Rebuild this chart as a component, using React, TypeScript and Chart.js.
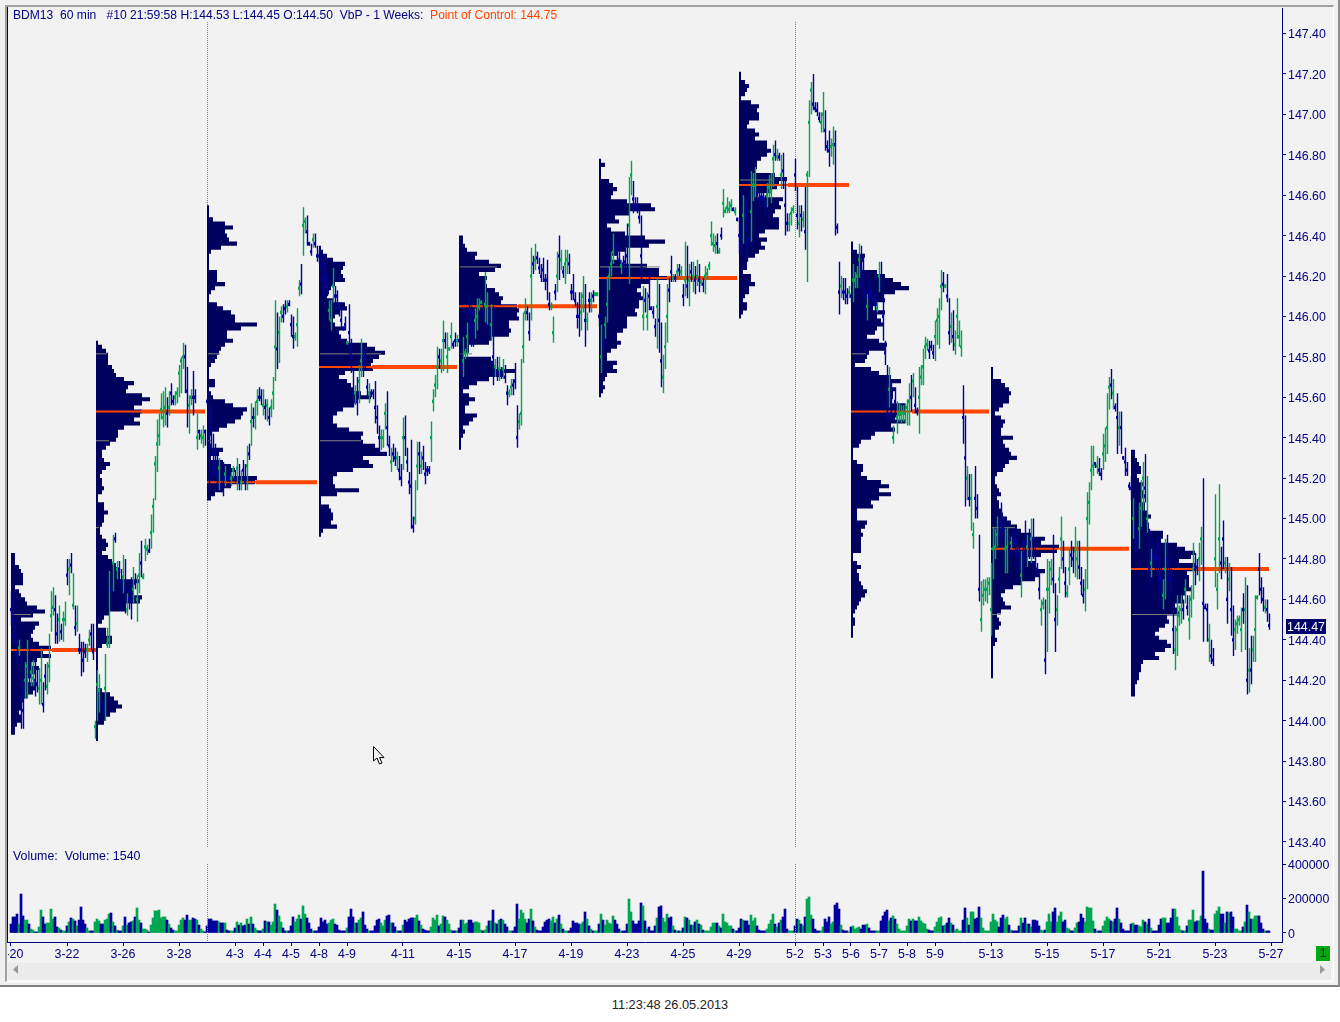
import { useEffect, useRef } from 'react';
import Chart from 'chart.js/auto';

// bar prices are stored as cents above this level
const PRICE_BASE = 143;

const priceTicks = [143.4, 143.6, 143.8, 144, 144.2, 144.4, 144.6, 144.8, 145, 145.2, 145.4, 145.6, 145.8, 146, 146.2, 146.4, 146.6, 146.8, 147, 147.2, 147.4];
const volumeTicks = [0, 200000, 400000];
const dateTickIndex = [0, 28, 56, 84, 112, 126, 140, 154, 168, 196, 224, 252, 280, 308, 336, 364, 392, 406, 420, 434, 448, 462, 490, 518, 546, 574, 602, 630];
const dateTickLabel = ['3-20', '3-22', '3-26', '3-28', '4-3', '4-4', '4-5', '4-8', '4-9', '4-11', '4-15', '4-17', '4-19', '4-23', '4-25', '4-29', '5-2', '5-3', '5-6', '5-7', '5-8', '5-9', '5-13', '5-15', '5-17', '5-21', '5-23', '5-27'];
const sessionBreaks = [98.25, 392.25];

const barHigh = [
  164,163,148,140,140,132,122,129,140,137, 129,130,129,125,126,136,119,128,129,143,
  164,166,162,153,157,148,154,159,180,180, 183,173,157,157,143,139,139,138,138,145,
  148,148,100,125,123,112,110,133,146,174, 171,192,193,179,179,175,182,180,163,168,
  171,176,173,172,183,189,173,190,187,190, 202,210,231,249,252,262,263,265,260,263,
  267,261,263,265,276,280,287,286,275,261, 264,273,264,252,244,244,246,244,259,256,
  256,242,237,231,230,218,228,226,224,223, 223,226,224,230,227,224,229,227,236,237,
  257,255,258,264,265,264,264,259,259,255, 259,270,308,302,300,305,306,308,308,308,
  301,300,292,304,318,326,354,349,350,337, 336,341,341,335,333,330,330,330,321,308,
  308,324,315,313,307,303,295,300,288,306, 289,274,266,270,276,289,286,285,269,267,
  264,264,268,256,246,244,244,257,263,241, 235,237,235,233,231,227,250,251,235,223,
  239,201,219,238,238,233,236,228,226,226, 248,264,271,285,284,284,298,292,292,284,
  297,288,292,291,289,284,290,284,297,312, 305,303,304,309,309,308,309,322,312,305,
  306,305,279,280,280,275,279,276,266,264, 269,269,277,256,252,279,302,309,305,302,
  334,330,336,332,329,326,329,321,328,312, 307,300,316,332,340,333,325,333,333,331,
  316,321,312,307,312,312,320,316,302,312, 312,313,312,312,302,296,290,300,320,325,
  332,341,338,336,332,328,330,334,346,369, 377,367,359,359,354,350,315,314,312,323,
  305,305,299,319,316,297,281,297,316,319, 330,321,321,326,326,325,316,337,335,326,
  327,327,325,328,326,318,319,325,324,327, 347,341,340,341,334,344,363,354,359,357,
  358,354,354,349,349,345,360,358,359,340, 372,371,374,362,363,361,361,360,366,370,
  371,385,387,383,381,380,381,368,351,351, 354,355,378,364,355,355,352,364,372,407,
  416,420,406,406,401,401,411,402,387,392, 388,394,392,346,327,320,319,319,314,315,
  312,326,322,325,336,335,331,314,311,319, 316,312,311,307,327,327,312,288,276,275,
  268,246,265,258,257,256,256,257,259,267, 271,272,265,255,275,276,284,290,289,288,
  288,286,298,304,309,323,322,316,321,309, 302,303,293,309,298,293,266,251,226,222,
  222,198,226,212,192,169,170,170,171,171, 178,196,195,201,200,208,201,195,196,191,
  191,194,195,190,186,184,190,199,192,195, 200,200,185,178,173,160,161,160,180,179,
  180,192,168,162,176,201,189,176,167,185, 189,186,196,189,189,176,170,175,213,218,
  236,236,228,231,230,225,242,245,262,270, 274,269,257,262,253,253,231,235,228,218,
  221,210,208,196,208,219,228,232,221,195, 185,188,185,190,188,176,170,190,192,181,
  175,160,147,162,157,162,160,170,162,162, 167,188,183,180,188,196,220,158,158,148,
  140,136,212,173,217,186,199,181,181,178, 176,157,150,152,152,156,163,171,167,136,
  142,142,162,162,183,171,166,160,160,153,
];

const barLow = [
  147,138,138,128,132,96,96,111,111,117, 117,117,112,114,108,108,104,115,113,119,
  144,152,138,138,139,140,139,147,167,162, 173,155,142,144,133,122,124,131,129,137,
  135,130,91,100,104,106,103,100,136,136, 163,164,188,170,173,165,163,153,152,155,
  150,158,165,149,163,171,170,179,182,183, 185,193,209,223,236,249,245,246,245,251,
  256,256,256,257,260,262,274,262,245,242, 256,251,257,234,239,237,235,236,256,213,
  234,221,220,214,214,213,211,216,218,218, 216,220,218,214,214,214,219,214,214,229,
  236,245,244,251,258,256,251,249,248,246, 250,254,268,274,277,297,297,301,302,305,
  290,284,288,285,310,311,330,341,335,335, 330,334,334,327,326,318,310,312,310,298,
  293,307,303,306,300,294,293,293,286,281, 272,255,256,251,257,270,270,274,260,257,
  260,259,247,242,232,234,235,244,236,231, 223,228,226,224,219,216,224,231,223,212,
  195,193,197,214,222,222,224,217,221,222, 228,253,260,264,274,272,273,284,272,283,
  284,284,285,285,287,264,270,279,280,293, 285,285,289,293,303,306,298,297,296,290,
  288,266,270,268,268,269,269,267,256,260, 261,261,264,235,244,246,277,298,298,288,
  298,321,323,326,321,317,317,313,308,303, 303,287,308,312,318,323,319,316,321,321,
  308,308,305,294,290,293,302,285,293,302, 302,307,310,310,295,272,282,289,297,313,
  320,326,330,328,325,321,321,321,321,316, 360,351,352,351,346,318,293,302,293,303,
  303,299,290,284,282,265,262,274,287,307, 317,317,317,318,320,319,305,310,309,305,
  317,312,311,315,312,315,312,311,318,323, 335,332,331,331,331,338,349,351,351,351,
  352,352,350,347,331,331,336,342,327,337, 337,357,359,359,354,356,357,351,354,359,
  356,364,377,377,377,363,363,340,342,342, 345,351,362,343,339,342,344,333,317,369,
  400,402,401,399,396,391,391,382,381,374, 379,375,340,341,301,309,308,306,306,309,
  307,307,314,314,319,314,309,309,298,304, 309,306,302,302,312,314,288,276,248,255,
  248,237,250,242,248,247,248,247,246,246, 253,260,252,251,242,266,266,279,283,279,
  283,279,278,286,284,303,312,314,307,286, 287,283,281,289,285,280,237,206,209,206,
  194,185,200,200,159,144,157,159,158,162, 142,170,180,186,186,188,190,173,173,181,
  185,185,181,180,172,161,173,180,176,180, 178,180,172,172,160,147,155,123,134,153,
  167,163,134,147,163,175,173,161,161,167, 176,173,171,170,170,162,158,154,165,197,
  214,221,225,222,221,219,224,228,232,254, 259,254,253,232,236,232,229,221,221,214,
  209,190,183,183,185,196,204,208,193,166, 171,177,174,172,157,162,155,160,171,160,
  164,133,125,132,147,148,150,158,152,140, 151,160,167,172,169,177,139,155,139,129,
  128,127,166,155,173,170,175,173,148,164, 142,132,135,143,147,134,148,135,113,114,
  118,129,129,160,162,158,154,153,149,145,
];

const barClose = [
  155,150,142,133,136,110,105,120,127,122, 124,121,120,118,116,120,108,122,117,127,
  152,156,155,143,150,144,150,150,172,175, 177,157,146,148,135,135,130,134,135,140,
  143,134,97,118,115,108,106,116,138,140, 165,178,190,175,175,169,171,165,155,160,
  160,165,168,160,172,178,171,186,185,184, 193,206,227,237,241,254,250,255,252,255,
  262,258,260,262,272,278,280,280,263,256, 260,260,260,240,243,241,240,243,258,235,
  245,232,228,222,225,216,220,222,220,220, 220,224,220,225,218,218,224,218,226,232,
  248,250,250,258,260,260,256,255,256,250, 255,262,285,284,292,302,300,304,305,306,
  296,290,290,296,314,316,345,347,342,336, 332,338,336,330,330,325,318,320,315,303,
  298,315,310,310,304,298,294,296,287,292, 280,262,262,258,268,278,278,280,265,262,
  262,262,255,250,240,240,240,252,245,236, 228,232,230,230,224,220,240,240,228,218,
  216,196,200,226,232,226,230,222,224,224, 240,258,266,275,280,278,288,288,280,284,
  290,286,288,288,288,275,278,282,290,302, 295,292,298,300,305,307,302,306,305,296,
  296,280,275,272,274,272,274,270,262,262, 265,266,268,240,248,252,285,302,302,292,
  320,326,328,329,324,320,323,318,318,306, 305,292,312,320,330,328,322,326,328,326,
  312,312,308,300,300,302,310,298,298,308, 308,310,311,311,300,280,286,296,306,320,
  326,332,335,332,328,325,326,327,330,345, 370,358,355,354,349,330,300,308,300,310,
  304,302,295,305,298,278,270,285,300,313, 322,319,319,322,323,322,310,318,315,318,
  322,320,318,320,318,317,316,320,321,325, 340,336,335,336,332,340,356,352,354,353,
  355,353,352,348,340,336,350,350,335,338, 352,365,365,361,358,359,359,355,360,364,
  362,378,380,379,379,370,372,355,346,346, 351,353,370,350,346,350,348,342,370,396,
  412,405,403,402,398,396,400,392,384,382, 384,385,385,344,312,315,312,312,310,312,
  310,318,318,320,328,325,316,312,305,310, 312,309,306,304,320,320,300,282,252,264,
  252,240,258,250,252,252,252,252,255,258, 260,268,256,253,260,270,275,285,286,283,
  285,282,290,298,300,315,316,315,310,292, 295,290,286,300,290,285,250,230,220,210,
  210,192,210,205,165,150,162,165,165,168, 155,185,186,192,192,198,195,185,186,185,
  188,190,188,184,178,172,182,188,186,186, 190,190,178,175,165,155,158,130,165,165,
  175,170,150,155,170,190,180,168,163,175, 182,180,184,180,176,168,162,165,200,208,
  224,226,227,226,224,222,232,236,245,265, 266,262,255,250,245,245,230,228,224,216,
  215,200,195,190,195,205,220,215,200,175, 178,182,180,180,170,170,162,175,180,170,
  170,145,135,145,152,155,155,165,156,150, 160,175,175,176,180,190,158,156,155,140,
  132,130,180,165,190,178,190,178,160,170, 155,140,145,148,150,145,155,155,120,125,
  125,135,145,161,175,165,160,156,155,147,
];

// volume in thousands; positive on an up bar, negative on a down bar
const volumeSigned = [
  -52,-93,-93,-110,52,-226,-99,75,75,-52, 23,17,-6,-6,35,133,-93,-52,58,58,
  139,81,-93,-35,29,-17,12,12,-41,64, -87,81,-70,41,-75,-151,-75,-52,29,12,
  -12,-12,64,81,70,-52,-52,75,81,110, -116,64,-41,17,-12,-12,41,-93,46,-58,
  -64,70,-93,145,75,-58,23,23,17,-6, 46,87,128,128,133,87,93,93,-75,52,
  -29,-17,12,12,46,75,87,-75,-104,75, 75,-87,-81,75,-46,23,12,-6,-41,-81,
  -81,-70,-70,-70,64,-58,-58,58,-17,-12, 12,12,-29,64,-46,58,-41,-46,81,-52,
  93,-52,29,17,-12,-12,23,-70,64,-64, 46,64,168,-133,99,64,-29,-12,12,-12,
  -41,-93,64,81,104,-81,157,110,-87,-58, -23,12,-12,-12,-35,-87,-64,-75,-52,58,
  75,81,-52,-46,-17,-12,-12,-12,29,-93, -139,-93,58,-58,75,87,-122,-46,-23,12,
  -12,-12,-41,-75,-81,58,41,75,-99,-104, 58,-58,-35,12,-12,-12,46,-75,-64,-81,
  -87,-87,87,104,-70,46,-23,-17,-12,-12, 35,87,75,104,-41,52,99,-93,75,52,
  17,-12,-12,12,-29,-75,75,52,58,-75, -75,-58,64,64,58,17,-12,17,41,-70,
  70,-133,58,-52,75,-81,75,-52,-35,12, 12,-12,-35,-168,81,133,116,81,-58,-81,
  139,-70,35,-17,-12,-12,-35,-64,-75,-81, 70,93,-58,81,-104,52,-23,12,12,-12,
  -29,-70,-58,-58,-52,52,64,-122,81,-41, 23,-12,12,12,-52,110,-75,46,75,58,
  52,99,-75,-52,-23,12,-12,-12,-52,197, 122,-70,-52,-52,-70,-174,157,-70,23,-35,
  -12,-12,-41,87,-151,-157,87,64,110,-87, -93,41,-17,12,-12,12,-29,93,-87,75,
  -46,46,-64,75,-52,46,-17,12,12,12, 35,58,58,-58,41,-29,110,64,58,41,
  41,-23,12,-12,-29,-81,75,-70,-70,-46, 104,70,87,-41,-17,-12,-12,-12,23,52,
  75,110,-52,35,-58,75,-93,-139,-23,12, 12,12,-41,-81,75,-52,41,-93,197,209,
  104,-81,-23,-12,-12,12,35,-81,-64,-93, 52,64,-162,-174,-139,46,-17,-12,-12,6,
  -35,41,23,29,35,-23,-46,-46,52,-29, -12,-12,-12,12,12,-70,-99,-122,-133,70,
  -87,99,-81,52,23,12,12,12,41,81, -70,81,-70,-70,93,70,58,52,23,-17,
  -12,-12,35,64,87,93,-41,46,-58,-87, 58,-46,17,23,12,12,-75,-145,87,-46,
  122,122,-81,-87,-151,87,29,12,12,12, 64,110,75,64,-35,-87,-104,81,93,-46,
  17,-12,-12,-12,-41,87,-58,-87,52,-52, 35,-75,-75,-70,-41,17,12,-17,64,110,
  64,-122,-145,64,99,122,-64,-75,29,23, -12,-12,29,58,-64,-110,-87,64,151,145,
  145,70,-23,12,-12,-12,41,70,93,81, -70,64,-81,-145,81,-58,-23,-12,-12,-12,
  -52,58,-46,-46,41,35,75,-64,52,-81, 29,-12,-12,-12,-46,-81,87,87,-58,-58,
  -87,-139,139,93,41,17,-12,12,-41,75, 75,133,-64,-70,70,99,-359,-81,-58,23,
  -17,-17,110,128,151,-110,-110,58,-122,116, -122,-93,23,23,12,12,-35,64,-162,122,
  -81,81,99,99,-99,-58,-23,12,-12,-12,
];

// volume-by-price profiles, one value per 0.02 of price from the top down
const profile1 = [2,2,2,4,5,6,6,6,2,4,5,7,8,13,17,11,5,14,12,11,10,11,14,20,16,20,13,10,14,12,10,8,13,12,11,8,6,5,5,4,5,5,3,2,2];
const profile2 = [1,3,5,6,6,6,8,9,10,14,19,16,15,23,27,23,19,23,22,19,22,14,11,11,10,7,5,3,3,4,7,5,3,2,3,3,4,3,1,1,4,4,6,4,4,3,2,2,3,5,6,5,3,6,8,10,11,12,12,22,19,19,19,23,22,15,15,7,4,3,1,5,5,8,8,3,1,1,1,1,1,1,1,1,1,1,3,7,9,11,13,10,7,5,4,1,1,1,1];
const profile3 = [1,1,1,3,9,13,9,10,11,15,7,2,1,1,1,1,5,5,5,9,4,2,1,1,5,8,12,14,14,25,17,10,10,13,9,7,6,5,4,2,1,1,1,4,4,1,2,3,9,13,20,18,17,14,10,6,2,1,1,2,8,6,2,8,12,14,12,25,24,12,8,4,2];
const profile4 = [1,2,4,7,13,12,11,12,13,8,6,5,4,7,13,14,10,8,7,8,13,10,11,14,24,28,33,30,27,26,27,13,10,14,16,17,21,26,19,17,12,9,7,7,9,15,22,21,22,28,30,34,22,25,27,17,9,7,7,8,20,9,1,1,5,6,7,7,6,9,2,1];
const profile5 = [2,2,3,4,9,8,15,21,18,10,14,13,14,18,20,22,21,29,30,29,30,25,25,26,25,16,15,5,5,2,16,17,18,28,22,15,9,5,2,5,8,5,3,3,9,7,5,2,3,2,1,1,1];
const profile6 = [1,3,1,1,1,5,7,9,7,6,14,26,28,15,8,10,4,6,13,23,33,25,13,9,6,11,24,30,30,34,25,21,19,21,22,20,20,18,19,14,14,14,12,9,9,11,9,6,4,4,9,7,9,4,3,2,3,2,1];
const profile7 = [1,1,3,5,4,3,1,6,10,9,10,10,5,4,8,10,8,14,14,16,14,11,9,9,8,18,24,20,19,16,9,22,20,21,18,17,20,20,20,13,10,14,11,13,10,8,4,4,4,2,6,6,8,5,5,3,2,4,4,2,1];
const profile8 = [1,1,3,7,6,5,5,13,17,21,25,29,22,16,17,13,11,17,13,15,16,13,12,8,14,18,17,9,8,7,2,10,14,20,25,20,22,21,21,20,27,27,25,22,27,20,22,12,10,5,4,1,1,1,3,6,6,5,8,15,19,14,20,14,10,11,3,3,3,8,7,5,6,5,5,5,5,1,1,3,5,3,4,4,5,6,8,7,5,4,3,2,1,2,2,1,1,1];
const profile9 = [1,1,1,5,7,9,10,9,9,6,4,2,5,7,6,5,5,11,6,7,9,10,13,9,7,6,3,2,2,3,4,5,3,4,4,5,6,8,10,13,15,20,27,25,34,33,25,18,22,22,27,24,22,15,11,7,5,6,7,10,5,3,4,5,4,2,2,3,2,1,1,1,1,1,1,1,1];
const profile10 = [2,2,3,4,5,5,3,4,6,5,6,7,5,7,7,8,10,8,9,9,16,16,15,23,27,32,30,24,32,31,28,29,29,29,30,27,26,26,22,23,24,18,19,17,14,12,14,18,20,17,12,14,6,5,5,4,4,3,2,2,2];
const profiles = [profile1, profile2, profile3, profile4, profile5, profile6, profile7, profile8, profile9, profile10];
const profileTop = [144.83, 145.88, 146.55, 146.35, 146.4, 146.78, 147.21, 146.37, 145.75, 145.34];
const profileStart = [0, 42.5, 98, 154, 224, 294, 364, 420, 490, 560];
const pocPrice = [144.35, 145.53, 145.18, 145.75, 146.05, 146.19, 146.65, 145.53, 144.85, 144.75];
// the POC is thin over its own bin, then thick out to the end of the week
const pocBinEnd = [20.5, 65, 122.5, 180.5, 253.5, 328, 388.5, 450.5, 524.5, 591];
const pocEnd = [42.5, 97, 153, 223, 293, 363, 419, 489, 559, 629];

// value area marks inside the profiles
const vaPrice = [144.525, 145.815, 145.385, 144.955, 145.815, 145.385, 145.815, 145.385, 146.245, 145.815, 146.245, 146.675, 145.815, 144.955, 144.525, 144.525];
const vaStart = [0.5, 42.5, 42.5, 42.5, 98.5, 98.5, 154.5, 154.5, 224.5, 224.5, 294.5, 364.5, 420.5, 490.5, 490.5, 560.5];
const vaEnd = [10, 48, 49, 44, 104.5, 100.5, 185, 175, 243, 230.5, 324.5, 381, 427.5, 502, 495, 583];

const NAVY = '#00009e';
const GREEN = '#00a651';
const PROFILE_NAVY = '#00005e';
const POC_ORANGE = '#ff4500';
const TEXT_NAVY = '#000080';
const FONT = '"Liberation Sans", Arial, sans-serif';

const GAP = { x: NaN, y: NaN };
type Pt = { x: number; y: number };

function priceSegments(isUp: boolean) {
  const pts: Pt[] = [];
  barHigh.forEach((h, i) => {
    if (volumeSigned[i] >= 0 !== isUp) return;
    pts.push({ x: i + 0.25, y: PRICE_BASE + h / 100 }, { x: i + 0.25, y: PRICE_BASE + barLow[i] / 100 }, GAP);
  });
  return pts;
}

function closeSegments(isUp: boolean) {
  const pts: Pt[] = [];
  barClose.forEach((c, i) => {
    if (volumeSigned[i] >= 0 !== isUp) return;
    pts.push({ x: i, y: PRICE_BASE + c / 100 + 0.008 }, { x: i, y: PRICE_BASE + c / 100 - 0.008 }, GAP);
  });
  return pts;
}

function profileSegments(p: number) {
  const pts: Pt[] = [];
  profiles[p].forEach((w, k) => {
    const y = profileTop[p] - 0.02 * (k + 0.5);
    pts.push({ x: profileStart[p], y }, { x: profileStart[p] + w, y }, GAP);
  });
  return pts;
}

function lineDs(data: Pt[], color: string, width: number, order: number, dash?: number[]) {
  return { type: 'scatter' as const, data, showLine: true, borderColor: color, backgroundColor: color, borderWidth: width, pointRadius: 0, order, borderDash: dash };
}

const tickFont = { family: FONT, size: 12.4 };

// Chart.js centres the labels a little above where the reference has them
function nudgeLabels(scale: any, dy: number) {
  const draw = scale.drawLabels;
  scale.drawLabels = function (area: any) {
    scale.ctx.save();
    scale.ctx.translate(0, dy);
    draw.call(scale, area);
    scale.ctx.restore();
  };
}

function PriceChart() {
  const ref = useRef<HTMLCanvasElement>(null);
  useEffect(() => {
    if (!ref.current) return;
    const pocThin: Pt[] = [];
    const pocThick: Pt[] = [];
    pocPrice.forEach((y, i) => {
      pocThin.push({ x: profileStart[i], y }, { x: pocBinEnd[i], y }, GAP);
      pocThick.push({ x: pocBinEnd[i], y }, { x: pocEnd[i], y }, GAP);
    });
    const vaPts: Pt[] = [];
    vaPrice.forEach((y, i) => vaPts.push({ x: vaStart[i], y }, { x: vaEnd[i], y }, GAP));
    const breakPts: Pt[] = [];
    sessionBreaks.forEach(x => breakPts.push({ x, y: 147.457 }, { x, y: 143.375 }, GAP));

    const chart = new Chart(ref.current, {
      type: 'scatter',
      data: {
        datasets: [
          lineDs(breakPts, '#808080', 1, 6, [1, 1]),
          ...profiles.map((_, p) => lineDs(profileSegments(p), PROFILE_NAVY, 4.1, 5)),
          lineDs(vaPts, '#808080', 1, 4),
          lineDs(pocThin, POC_ORANGE, 2, 3),
          lineDs(pocThick, POC_ORANGE, 4, 3),
          lineDs(priceSegments(false), NAVY, 1.4, 2),
          lineDs(priceSegments(true), GREEN, 1.4, 2),
          lineDs(closeSegments(false), NAVY, 2, 1),
          lineDs(closeSegments(true), GREEN, 2, 1),
        ],
      },
      options: {
        responsive: false,
        animation: false,
        events: [],
        layout: { padding: { bottom: 13 } },
        plugins: { legend: { display: false }, tooltip: { enabled: false } },
        scales: {
          x: { type: 'linear', min: -1.5, max: 635.5, display: false },
          y: {
            type: 'linear',
            position: 'right',
            min: 143.375,
            max: 147.526,
            afterBuildTicks: s => { s.ticks = priceTicks.map(value => ({ value })); },
            afterFit: s => { s.width = 51; s.paddingTop = 0; s.paddingBottom = 0; },
            grid: { drawOnChartArea: false, tickLength: 4, tickColor: TEXT_NAVY },
            border: { color: TEXT_NAVY },
            ticks: { color: TEXT_NAVY, font: tickFont, padding: 2, autoSkip: false, callback: v => Number(v).toFixed(2) },
          },
        },
      },
    });
    nudgeLabels(chart.scales.y, 1.5);
    chart.draw();
    return () => chart.destroy();
  }, []);
  return <canvas ref={ref} width={1325} height={852} style={{ position: 'absolute', left: 8, top: 8, display: 'block' }} />;
}

function VolumeChart() {
  const ref = useRef<HTMLCanvasElement>(null);
  useEffect(() => {
    if (!ref.current) return;
    const breakPts: Pt[] = [];
    sessionBreaks.forEach(x => breakPts.push({ x, y: 400000 }, { x, y: -52174 }, GAP));

    const chart = new Chart(ref.current, {
      type: 'bar',
      data: {
        datasets: [
          {
            data: volumeSigned.map((v, i) => ({ x: i, y: Math.abs(v) * 1000 })),
            backgroundColor: volumeSigned.map(v => (v >= 0 ? GREEN : NAVY)),
            barThickness: 2,
            grouped: false,
            order: 2,
          },
          lineDs(breakPts, '#808080', 1, 1, [1, 1]) as any,
        ],
      },
      options: {
        responsive: false,
        animation: false,
        events: [],
        plugins: { legend: { display: false }, tooltip: { enabled: false } },
        scales: {
          x: {
            type: 'linear',
            min: -1.5,
            max: 635.5,
            offset: false,
            afterBuildTicks: s => { s.ticks = dateTickIndex.map(value => ({ value })); },
            afterFit: s => { s.height = 18; s.paddingLeft = 0; s.paddingRight = 0; },
            grid: { drawOnChartArea: false, offset: false, tickLength: 4, tickColor: TEXT_NAVY },
            border: { color: TEXT_NAVY },
            ticks: {
              color: TEXT_NAVY,
              font: tickFont,
              padding: 1,
              autoSkip: false,
              maxRotation: 0,
              callback: v => dateTickLabel[dateTickIndex.indexOf(Number(v))],
            },
          },
          y: {
            type: 'linear',
            position: 'right',
            min: -52174,
            max: 492754,
            afterBuildTicks: s => { s.ticks = volumeTicks.map(value => ({ value })); },
            afterFit: s => { s.width = 51; s.paddingTop = 0; s.paddingBottom = 0; },
            grid: { drawOnChartArea: false, tickLength: 4, tickColor: TEXT_NAVY },
            border: { color: TEXT_NAVY },
            ticks: { color: TEXT_NAVY, font: tickFont, padding: 2, autoSkip: false, callback: v => String(v) },
          },
        },
      },
    });
    nudgeLabels(chart.scales.y, 1.5);
    chart.draw();
    return () => chart.destroy();
  }, []);
  return <canvas ref={ref} width={1325} height={112} style={{ position: 'absolute', left: 8, top: 848, display: 'block' }} />;
}

const textBase: React.CSSProperties = { position: 'absolute', font: `12px ${FONT}`, lineHeight: '14px', whiteSpace: 'pre', color: TEXT_NAVY };

export default function App() {
  return (
    <div style={{ position: 'absolute', left: 0, top: 0, width: 1340, height: 1022, background: '#fff', overflow: 'hidden' }}>
      {/* window frame */}
      <div style={{ position: 'absolute', left: 0, top: 0, width: 1340, height: 985, background: '#f0f0f0', borderBottom: '2px solid #808080' }} />
      <div style={{ position: 'absolute', right: 0, top: 0, width: 2, height: 987, background: '#8c8c8c' }} />
      <div style={{ position: 'absolute', left: 5, top: 5, width: 1326, height: 974, background: '#f2f2f2', borderLeft: '2px solid #a0a0a0', borderTop: '2px solid #a0a0a0', borderRight: '1px solid #fff', borderBottom: '1px solid #fff' }} />
      <div style={{ position: 'absolute', left: 7, top: 7, width: 1, height: 936, background: TEXT_NAVY }} />
      <div style={{ position: 'absolute', left: 8, top: 963, width: 1323, height: 16, background: '#ececec' }} />
      <svg width="8" height="10" style={{ position: 'absolute', left: 13, top: 965 }}><polygon points="5,0 5,9 0,4.5" fill="#9a9a9a" /></svg>
      <svg width="8" height="10" style={{ position: 'absolute', left: 1320, top: 965 }}><polygon points="0,0 0,9 5,4.5" fill="#9a9a9a" /></svg>

      <PriceChart />
      <VolumeChart />

      <div style={{ ...textBase, left: 13, top: 8, fontSize: 12.1 }}>
        {'BDM13  60 min   #10 21:59:58 H:144.53 L:144.45 O:144.50  VbP - 1 Weeks:  '}
        <span style={{ color: POC_ORANGE }}>Point of Control: 144.75</span>
      </div>
      <div style={{ ...textBase, left: 13, top: 849, fontSize: 12.4 }}>{'Volume:  Volume: 1540'}</div>
      <div style={{ ...textBase, left: 1286, top: 619, width: 40, height: 15, lineHeight: '16px', fontSize: 12.4, background: '#00006a', color: '#fff', textAlign: 'center' }}>144.47</div>
      <div style={{ ...textBase, left: 1316, top: 946, width: 14, height: 15, lineHeight: '15px', background: '#06a812', color: '#003000', textAlign: 'center' }}>1</div>
      <div style={{ ...textBase, left: 0, top: 998, width: 1340, textAlign: 'center', color: '#222', fontSize: 12.8 }}>11:23:48 26.05.2013</div>

      <svg width="14" height="20" style={{ position: 'absolute', left: 373, top: 746 }}>
        <polygon points="0.5,0.5 0.5,15 4,12 6.5,18 9,17 6.5,11.5 11,11.5" fill="#f2f2f2" stroke="#000" strokeWidth="1" />
      </svg>
    </div>
  );
}
